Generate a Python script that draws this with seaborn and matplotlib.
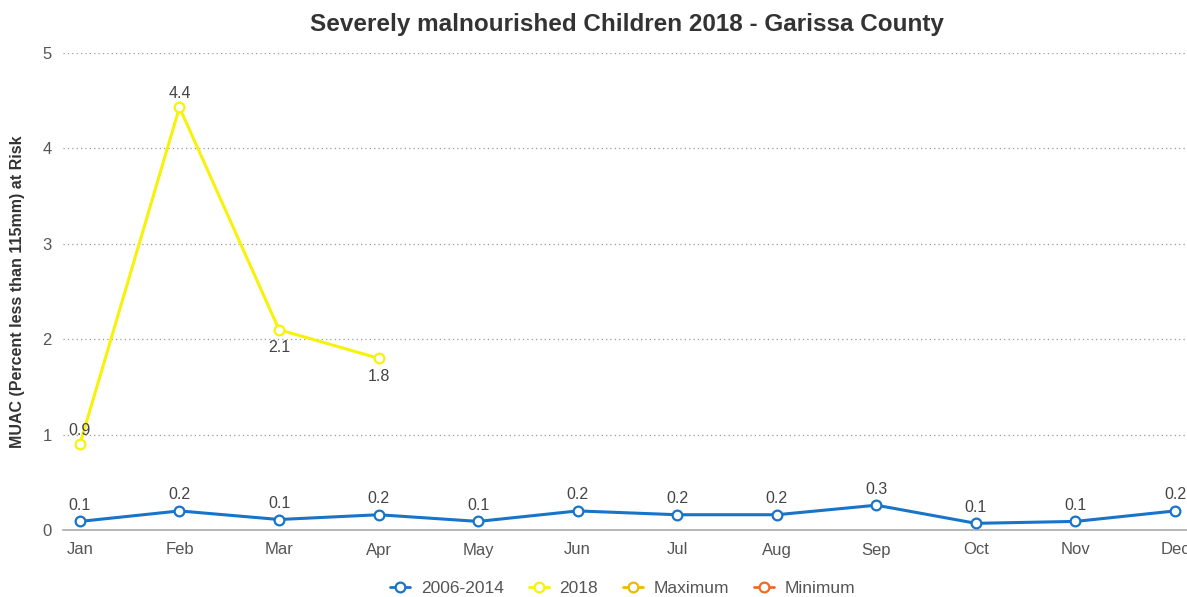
import matplotlib
matplotlib.use("Agg")
import matplotlib.pyplot as plt
import seaborn as sns
import pandas as pd
import numpy as np
from matplotlib.lines import Line2D

months = ["Jan", "Feb", "Mar", "Apr", "May", "Jun", "Jul", "Aug", "Sep", "Oct", "Nov", "Dec"]
baseline_2006_2014 = [0.09, 0.20, 0.11, 0.16, 0.09, 0.20, 0.16, 0.16, 0.26, 0.07, 0.09, 0.20]
months_2018 = ["Jan", "Feb", "Mar", "Apr"]
values_2018 = [0.9, 4.43, 2.1, 1.8]
labels_2018_below = [False, False, True, True]

series_names = ["2006-2014", "2018", "Maximum", "Minimum"]
series_colors = ["#1874c8", "#f7f20a", "#f2b705", "#f26a21"]

sns.set_theme(style="white")
plt.rcParams["font.family"] = ["Liberation Sans", "DejaVu Sans"]

df_base = pd.DataFrame({"x": np.arange(len(months)), "y": baseline_2006_2014, "series": "2006-2014"})
df_2018 = pd.DataFrame({"x": [months.index(m) for m in months_2018], "y": values_2018, "series": "2018"})

fig = plt.figure(figsize=(11.87, 5.97), dpi=100)
ax = fig.add_axes([63 / 1187, 67 / 597, 1 - 63 / 1187, 477 / 597])

for d, c in [(df_2018, series_colors[1]), (df_base, series_colors[0])]:
    sns.lineplot(data=d, x="x", y="y", ax=ax, color=c, linewidth=2.2, marker="o",
                 markersize=7, markerfacecolor="white", markeredgecolor=c,
                 markeredgewidth=1.6, legend=False, zorder=3)

label_color = "#444444"
lab_fs = 11.5
for i, v in enumerate(baseline_2006_2014):
    ax.annotate(f"{v:.1f}", (i, v), xytext=(0, 11.5), textcoords="offset points",
                ha="center", va="center", fontsize=lab_fs, color=label_color)
for m, v, below in zip(months_2018, values_2018, labels_2018_below):
    i = months.index(m)
    off = -13 if below else 10
    ax.annotate(f"{v:.1f}", (i, v), xytext=(0, off), textcoords="offset points",
                ha="center", va="center", fontsize=lab_fs, color=label_color)

ax.set_xlim(-0.17, 11.12)
ax.set_ylim(0, 5)
ax.set_xticks(np.arange(len(months)))
ax.set_xticklabels(months)
ax.set_yticks([0, 1, 2, 3, 4, 5])
ax.set_yticklabels(["0", "1", "2", "3", "4", "5"])
ax.tick_params(axis="both", length=0, labelsize=12, colors="#555555")
ax.tick_params(axis="x", pad=9)
ax.tick_params(axis="y", pad=8)
for y in [1, 2, 3, 4, 5]:
    ax.axhline(y, color="#999999", linestyle=(0, (1, 2.5)), linewidth=0.9, zorder=1)
for s in ["top", "right", "left"]:
    ax.spines[s].set_visible(False)
ax.spines["bottom"].set_color("#aaaaaa")
ax.spines["bottom"].set_linewidth(1.2)
ax.set_xlabel("")
ax.set_ylabel("MUAC (Percent less than 115mm) at Risk", fontsize=11.5, fontweight="bold",
              color="#333333")
ax.yaxis.set_label_coords(-0.034, 0.5)

fig.text(0.528, 1 - 24 / 597, "Severely malnourished Children 2018 - Garissa County",
         ha="center", va="center", fontsize=17.5, fontweight="bold", color="#333333")

handles = [Line2D([0], [0], color=c, linewidth=2, marker="o", markersize=7,
                  markerfacecolor="white", markeredgecolor=c, markeredgewidth=1.6)
           for c in series_colors]
leg = fig.legend(handles, series_names, loc="center", bbox_to_anchor=(0.5245, 1 - 588 / 597),
                 ncol=4, frameon=False, fontsize=12.5, handlelength=1.15,
                 columnspacing=1.45, handletextpad=0.6, borderpad=0, borderaxespad=0)
for t in leg.get_texts():
    t.set_color("#555555")

fig.savefig("out.png", dpi=100)
